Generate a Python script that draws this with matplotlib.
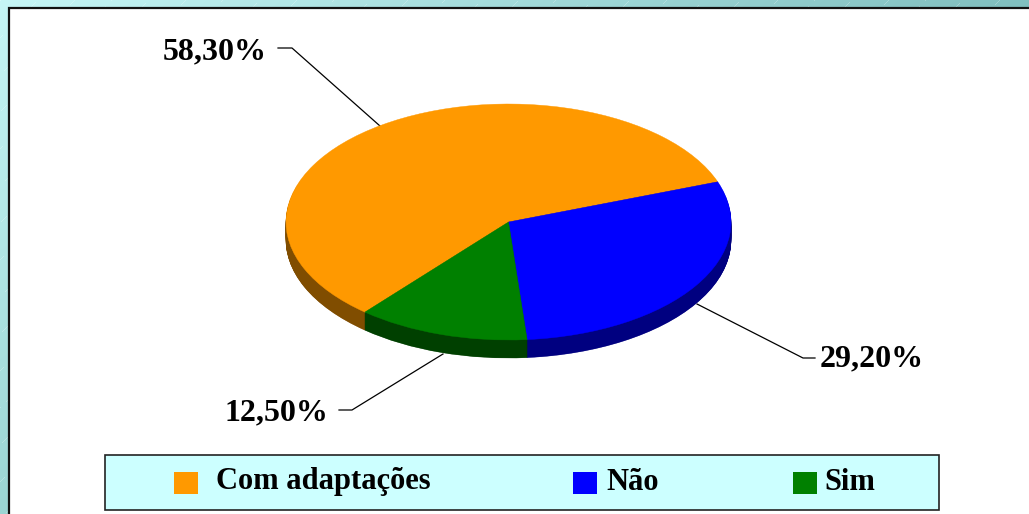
import numpy as np
import matplotlib
matplotlib.use("Agg")
import matplotlib.pyplot as plt
from matplotlib.patches import Rectangle

categories = ["Com adaptações", "Não", "Sim"]
values = [58.3, 29.2, 12.5]
value_labels = ["58,30%", "29,20%", "12,50%"]
top_colors = ["#ff9900", "#0000ff", "#008000"]
side_colors = ["#804d00", "#000080", "#004000"]

W, H = 1029, 514
plt.rcParams["font.family"] = ["Liberation Serif", "DejaVu Serif"]
fig = plt.figure(figsize=(W / 100, H / 100), dpi=100)

# Overlay in pixel coordinates for the slide frame, legend and label callouts
ov = fig.add_axes([0, 0, 1, 1])
ov.set_xlim(0, W)
ov.set_ylim(H, 0)
ov.axis("off")

yy, xx = np.mgrid[0:H, 0:W]
corner = np.array([198.0, 246.0, 246.0])
dx = (np.array([128.0, 191.0, 191.0]) - corner) / W
dy = (np.array([155.0, 213.0, 211.0]) - corner) / H
bg = corner[None, None, :] + xx[..., None] * dx[None, None, :] + yy[..., None] * dy[None, None, :]
stripe = ((xx + yy) % 37 < 1) & ((xx - yy) % 22 < 12)
bg[stripe] = bg[stripe] * 0.75 + 255 * 0.25
ov.imshow(bg.astype(np.uint8), extent=(0, W, H, 0), aspect="auto", zorder=0, interpolation="nearest")
ov.set_xlim(0, W)
ov.set_ylim(H, 0)

ov.add_patch(Rectangle((9, 8), W + 20, H + 20, facecolor="white", edgecolor="#111111", linewidth=1.6, zorder=1))

# Legend
ov.add_patch(Rectangle((105, 455), 834, 55, facecolor="#ccffff", edgecolor="#222222", linewidth=1.2, zorder=2))
swatch_x = [174, 573, 793]
text_x = [206, 603, 824]
text_w = [234, 59, 52]
for name, color, sx, tx, tw in zip(categories, top_colors, swatch_x, text_x, text_w):
    ov.add_patch(Rectangle((sx, 472), 24, 22, facecolor=color, edgecolor="none", zorder=3))
    ov.text(tx + tw / 2, 489.5, name, ha="center", va="baseline", fontsize=22, fontweight="bold", color="black", zorder=3)

# Callouts
callouts = [
    ([380, 292, 278], [126, 48, 48], 215, 59),
    ([697, 803, 815], [304, 358, 358], 872, 366),
    ([443, 352, 339], [354, 410, 410], 276, 420),
]
for (lx, ly, tx, ty), lab in zip(callouts, value_labels):
    ov.plot(lx, ly, color="black", linewidth=0.9, zorder=3)
    ov.text(tx, ty, lab, ha="center", va="baseline", fontsize=23, fontweight="bold", color="black", zorder=3)

# Pie: elliptical by using unequal axis scaling
left, right, top, bottom = 286, 731, 104, 340
depth_px = 18
ry_px = (bottom - top) / 2
depth = depth_px / ry_px
pie_bottom = bottom + depth_px + 2
ymin = -1 - (depth_px + 2) / ry_px
ax = fig.add_axes([left / W, 1 - pie_bottom / H, (right - left) / W, (pie_bottom - top) / H], zorder=5)
ax.patch.set_alpha(0)
start = 229.8


def draw_layer(colors, offset):
    wedges, _ = ax.pie(values, colors=colors, startangle=start, counterclock=False, radius=1,
                       center=(0, -offset))
    for w in wedges:
        w.set_edgecolor(w.get_facecolor())
        w.set_linewidth(0.3)


for d in np.linspace(depth, 0.01, depth_px * 2):
    draw_layer(side_colors, d)
draw_layer(top_colors, 0)
ax.set_aspect("auto")
ax.set_xlim(-1, 1)
ax.set_ylim(ymin, 1)
ax.axis("off")

fig.savefig("out.png", dpi=100)
